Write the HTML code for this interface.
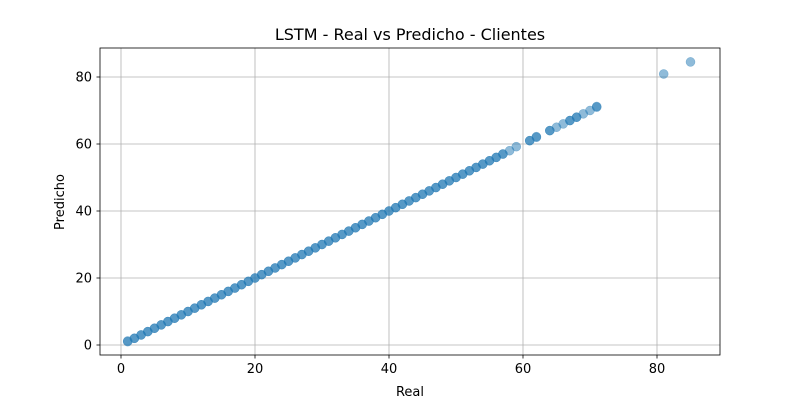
<!DOCTYPE html>
<html><head><meta charset="utf-8"><style>
body{margin:0;background:#fff;}
svg text{font-family:"DejaVu Sans","Liberation Sans",sans-serif;fill:#000;}
</style></head><body>
<svg id="chart" width="800" height="400">
<rect x="0" y="0" width="800" height="400" fill="#fff"/>
<text x="410" y="40" font-size="16" text-anchor="middle">LSTM - Real vs Predicho - Clientes</text>
<g id="grid"></g>
<g id="points"></g>
<rect x="100" y="48" width="620" height="307" fill="none" stroke="#000" stroke-width="0.8"/>
<g id="axes"></g>
<text x="410" y="396" font-size="13" text-anchor="middle">Real</text>
<text x="64" y="202" font-size="13" text-anchor="middle" transform="rotate(-90 64 202)">Predicho</text>
</svg>
<script>
const realValues=[1,2,3,4,5,6,7,8,9,10,11,12,13,14,15,16,17,18,19,20,21,22,23,24,25,26,27,28,29,30,31,32,33,34,35,36,37,38,39,40,41,42,43,44,45,46,47,48,49,50,51,52,53,54,55,56,57,58,59,61,62,64,65,66,67,68,69,70,71,81,85,
1,2,3,4,5,6,7,8,9,10,11,12,13,14,15,16,17,18,19,20,21,22,23,24,25,26,27,28,29,30,31,32,33,34,35,36,37,38,39,40,41,42,43,44,45,46,47,48,49,50,51,52,53,54,55,56,57,61,62,64,67,68,71];
const predictedValues=[1.2,2,3,4,5,6,7,8,9,10,11,12,13,14,15,16,17,18,19,20,21,22,23,24,25,26,27,28,29,30,31,32,33,34,35,36,37,38,39,40,41,42,43,44,45,46,47,48,49,50,51,52,53,54,55,56,57,58,59.2,61,62.2,64,65,66,67,68,69,70,71,80.9,84.5,
1,2,3,4,5,6,7,8,9,10,11,12,13,14,15,16,17,18,19,20,21,22,23,24,25,26,27,28,29,30,31,32,33,34,35,36,37,38,39,40,41,42,43,44,45,46,47,48,49,50,51,52,53,54,55,56,57,61,62,64,67,68,71.2];
const xTicks=[0,20,40,60,80];
const yTicks=[0,20,40,60,80];
const NS="http://www.w3.org/2000/svg";
function xScale(v){return 121+v*6.7;}
function yScale(v){return 345-v*3.35;}
function mk(tag,attrs,parent){const e=document.createElementNS(NS,tag);for(const k in attrs)e.setAttribute(k,attrs[k]);parent.appendChild(e);return e;}
const grid=document.getElementById('grid'),axes=document.getElementById('axes'),pts=document.getElementById('points');
xTicks.forEach(t=>{const x=xScale(t);
 const g=mk('line',{x1:x,x2:x,y1:48,y2:355,stroke:'#b0b0b0','stroke-width':0.8},grid);
 
 
 const tk=mk('line',{x1:x,x2:x,y1:355,y2:358.5,stroke:'#000','stroke-width':0.8},axes);
 
 
 const tx=mk('text',{x:x,y:373,'font-size':13,'text-anchor':'middle'},axes);tx.textContent=t;
 
 
});
yTicks.forEach(t=>{const y=yScale(t);
 const g=mk('line',{x1:100,x2:720,y1:y,y2:y,stroke:'#b0b0b0','stroke-width':0.8},grid);
 
 
 const tk=mk('line',{x1:96.5,x2:100,y1:y,y2:y,stroke:'#000','stroke-width':0.8},axes);
 
 
 const tx=mk('text',{x:92,y:y+4.5,'font-size':13,'text-anchor':'end'},axes);tx.textContent=t;
 
 
});
realValues.forEach((r,i)=>{
 const c=mk('circle',{cx:xScale(r),cy:yScale(predictedValues[i]),r:4.5,fill:'#1f77b4','fill-opacity':0.5,stroke:'#1f77b4','stroke-opacity':0.5,'stroke-width':0.5},pts);
 
 
});
</script>
</body></html>
